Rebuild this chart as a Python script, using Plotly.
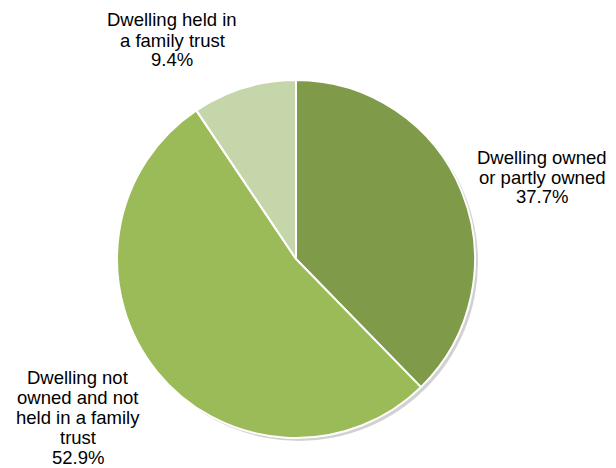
import plotly.graph_objects as go

# Dwelling ownership breakdown
categories = [
    "Dwelling owned<br>or partly owned",
    "Dwelling not<br>owned and not<br>held in a family<br>trust",
    "Dwelling held in<br>a family trust",
]
shares = [37.7, 52.9, 9.4]
colors = ["#7F9B4A", "#9BBB59", "#C6D6AB"]

W, H = 616, 468
cx, cy, r = 296, 259, 179  # pie centre / radius in pixels

fig = go.Figure()

fig.add_trace(go.Pie(
    values=shares,
    labels=categories,
    sort=False,
    direction="clockwise",
    rotation=0,
    marker=dict(colors=colors, line=dict(color="white", width=2)),
    textinfo="none",
    hoverinfo="label+percent",
    showlegend=False,
    domain=dict(x=[(cx - r) / W, (cx + r) / W],
                y=[(H - cy - r) / H, (H - cy + r) / H]),
))

# soft drop shadow behind the pie
fig.add_shape(type="circle", xref="paper", yref="paper", layer="below",
              x0=(cx - r + 3) / W, x1=(cx + r + 3) / W,
              y0=(H - cy - r - 3) / H, y1=(H - cy + r - 3) / H,
              line=dict(width=0), fillcolor="rgba(0,0,0,0.18)")

# outside labels (category + percentage), one line at a time for tight leading
label_top = [(542, 157), (78, 377), (172, 20)]  # centre x, first-line centre y
line_gap = 20
for name, val, (lx, ly) in zip(categories, shares, label_top):
    lines = name.split("<br>") + [f"{val:.1f}%"]
    for i, line in enumerate(lines):
        fig.add_annotation(
            x=lx / W, y=(H - (ly + i * line_gap)) / H, xref="paper", yref="paper",
            text=line, showarrow=False,
            xanchor="center", yanchor="middle", align="center",
            font=dict(family="Liberation Sans, Arial, sans-serif", size=18.5,
                      color="#000000"),
        )

fig.update_layout(
    width=W, height=H,
    margin=dict(l=0, r=0, t=0, b=0),
    paper_bgcolor="white", plot_bgcolor="white",
)

fig.write_html("out.html")
